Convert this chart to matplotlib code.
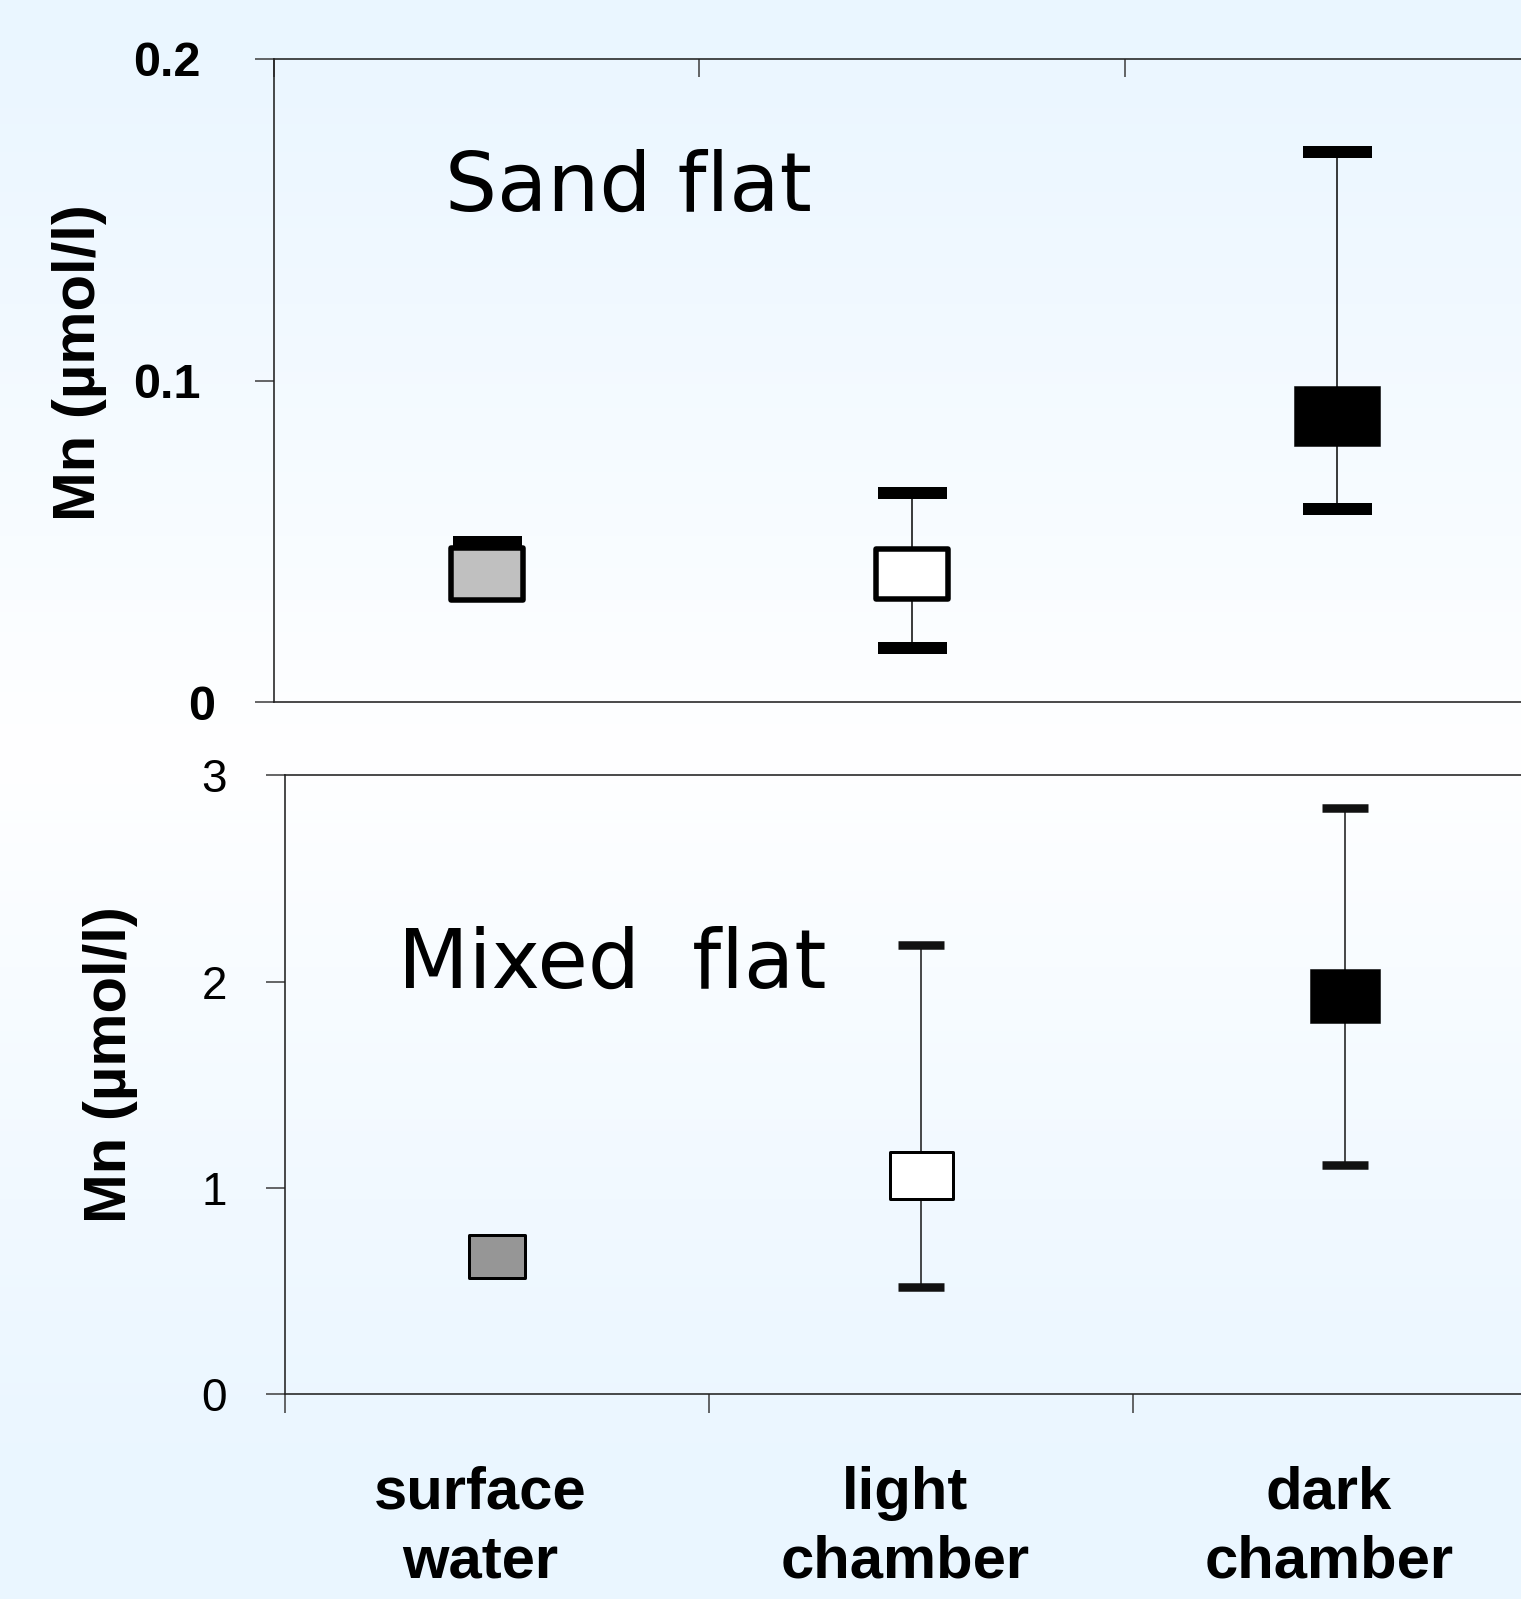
import numpy as np
import matplotlib
matplotlib.use("Agg")
import matplotlib.pyplot as plt
from matplotlib.path import Path
from matplotlib.transforms import ScaledTranslation

# ---------------- data ----------------
categories = ["surface\nwater", "light\nchamber", "dark\nchamber"]

sand_mean = [0.040, 0.040, 0.089]
sand_upper = [0.050, 0.065, 0.171]
sand_lower = [0.034, 0.017, 0.060]

mixed_mean = [0.67, 1.06, 1.93]
mixed_upper = [0.67, 2.18, 2.84]
mixed_lower = [0.67, 0.52, 1.11]

sand_yticks = [0.0, 0.1, 0.2]
sand_yticklabels = ["0", "0.1", "0.2"]
mixed_yticks = [0, 1, 2, 3]
mixed_yticklabels = ["0", "1", "2", "3"]

# ---------------- styles ----------------
DPI = 100
W, H = 1521, 1599
fig = plt.figure(figsize=(W / DPI, H / DPI), dpi=DPI)

# background gradient (light blue -> white -> light blue)
bg = fig.add_axes([0, 0, 1, 1], zorder=-10)
t = np.linspace(0, 1, 400)
w = np.clip(1 - np.abs(t - 0.47) / 0.47, 0, 1) ** 1.2
c_edge = np.array([234, 246, 255]) / 255.0
c_mid = np.array([255, 255, 255]) / 255.0
grad = c_edge[None, :] * (1 - w[:, None]) + c_mid[None, :] * w[:, None]
bg.imshow(grad[:, None, :], aspect="auto", extent=[0, 1, 0, 1], origin="upper")
bg.set_axis_off()

sans = ["Liberation Sans", "DejaVu Sans"]
hand = ["DejaVu Sans"]

def rect_marker(aspect):
    verts = [(-0.5, -0.5 * aspect), (0.5, -0.5 * aspect), (0.5, 0.5 * aspect),
             (-0.5, 0.5 * aspect), (-0.5, -0.5 * aspect)]
    codes = [Path.MOVETO, Path.LINETO, Path.LINETO, Path.LINETO, Path.CLOSEPOLY]
    return Path(verts, codes)

def px2pt(p):
    return p * 72.0 / DPI

x = np.arange(len(categories))

# ---------- top panel (Sand flat) ----------
l1, r1 = 274, W
t1, b1 = 59, 702.5
ax1 = fig.add_axes([l1 / W, 1 - b1 / H, (r1 - l1) / W, (b1 - t1) / H])
ax1.patch.set_alpha(0)
unit1 = (1124.5 - 274) / 2
ax1.set_xlim(-0.5, (r1 - l1) / unit1 - 0.5)
ax1.set_ylim(0, 0.2)

top_face = ["#c0c0c0", "#ffffff", "#000000"]
top_w = [77, 77, 86]
top_h = [57, 56, 60]
top_ew = [5.5, 5.5, 0.5]
for i in range(3):
    yerr = [[sand_mean[i] - sand_lower[i]], [sand_upper[i] - sand_mean[i]]]
    ax1.errorbar([x[i]], [sand_mean[i]], yerr=yerr, fmt="none", ecolor="black",
                 elinewidth=px2pt(1.5), capsize=px2pt(69) / 2, capthick=px2pt(12),
                 zorder=2)
    ew = top_ew[i]
    ax1.plot([x[i]], [sand_mean[i]], linestyle="none",
             marker=rect_marker((top_h[i] - ew) / (top_w[i] - ew)),
             markersize=px2pt(top_w[i] - ew), markerfacecolor=top_face[i],
             markeredgecolor="black", markeredgewidth=px2pt(ew), zorder=3)

ax1.spines["right"].set_visible(False)
for s in ["left", "top", "bottom"]:
    ax1.spines[s].set_linewidth(px2pt(1.6))
    ax1.spines[s].set_color("#222222")
ax1.xaxis.set_ticks_position("top")
ax1.set_xticks([-0.5, 0.5, 1.5])
ax1.tick_params(axis="x", direction="in", length=px2pt(18), width=px2pt(1.6),
                labeltop=False, labelbottom=False, color="#444444")
ax1.set_yticks(sand_yticks)
ax1.set_yticklabels(sand_yticklabels, fontfamily=sans, fontweight="bold",
                    fontsize=35)
ax1.tick_params(axis="y", direction="out", length=px2pt(19), width=px2pt(1.6),
                pad=px2pt(54), color="#444444")
# the "0" label sits a little further right in the original
lab0 = ax1.get_yticklabels()[0]
lab0.set_transform(lab0.get_transform() +
                   ScaledTranslation(14 / DPI, 0, fig.dpi_scale_trans))
ax1.set_ylabel("Mn (µmol/l)", fontfamily=sans, fontweight="bold", fontsize=43,
               ha="center", va="center")
ax1.yaxis.set_label_coords((80 - l1) / (r1 - l1), (b1 - 363) / (b1 - t1))
ax1.text((445 - l1) / (r1 - l1), (b1 - 211) / (b1 - t1), "Sand flat",
         transform=ax1.transAxes, fontfamily=hand, fontsize=59,
         ha="left", va="baseline")

# ---------- bottom panel (Mixed flat) ----------
l2, r2 = 284.5, W
t2, b2 = 775.5, 1393.8
ax2 = fig.add_axes([l2 / W, 1 - b2 / H, (r2 - l2) / W, (b2 - t2) / H])
ax2.patch.set_alpha(0)
unit2 = (1133 - 284.5) / 2
ax2.set_xlim(-0.5, (r2 - l2) / unit2 - 0.5)
ax2.set_ylim(0, 3)

bot_face = ["#969696", "#ffffff", "#000000"]
bot_w = [59, 66, 70]
bot_h = [46, 50, 54]
bot_ew = [3.0, 3.0, 0.5]
for i in range(3):
    if mixed_upper[i] > mixed_lower[i]:
        yerr = [[mixed_mean[i] - mixed_lower[i]], [mixed_upper[i] - mixed_mean[i]]]
        ax2.errorbar([x[i]], [mixed_mean[i]], yerr=yerr, fmt="none",
                     ecolor="#111111", elinewidth=px2pt(1.5),
                     capsize=px2pt(46) / 2, capthick=px2pt(8.5), zorder=2)
    ew = bot_ew[i]
    ax2.plot([x[i]], [mixed_mean[i]], linestyle="none",
             marker=rect_marker((bot_h[i] - ew) / (bot_w[i] - ew)),
             markersize=px2pt(bot_w[i] - ew), markerfacecolor=bot_face[i],
             markeredgecolor="black", markeredgewidth=px2pt(ew), zorder=3)

ax2.spines["right"].set_visible(False)
for s in ["left", "top", "bottom"]:
    ax2.spines[s].set_linewidth(px2pt(1.6))
    ax2.spines[s].set_color("#222222")
ax2.set_xticks([-0.5, 0.5, 1.5])
ax2.tick_params(axis="x", which="major", direction="out", length=px2pt(19),
                width=px2pt(1.6), labelbottom=False, color="#444444")
ax2.set_xticks(x, minor=True)
ax2.set_xticklabels(categories, minor=True, fontfamily=sans, fontweight="bold",
                    fontsize=43, linespacing=1.32)
ax2.tick_params(axis="x", which="minor", length=0, pad=px2pt(72))
for lab in ax2.get_xticklabels(minor=True):
    lab.set_transform(lab.get_transform() +
                      ScaledTranslation(-16 / DPI, 0, fig.dpi_scale_trans))
ax2.set_yticks(mixed_yticks)
ax2.set_yticklabels(mixed_yticklabels, fontfamily=sans, fontsize=33)
ax2.tick_params(axis="y", direction="out", length=px2pt(19.5), width=px2pt(1.6),
                pad=px2pt(38), color="#444444")
ax2.set_ylabel("Mn (µmol/l)", fontfamily=sans, fontweight="bold", fontsize=43,
               ha="center", va="center")
ax2.yaxis.set_label_coords((111 - l2) / (r2 - l2), (b2 - 1064.5) / (b2 - t2))
ax2.text((398 - l2) / (r2 - l2), (b2 - 988) / (b2 - t2), "Mixed  flat",
         transform=ax2.transAxes, fontfamily=hand, fontsize=59,
         ha="left", va="baseline")

fig.savefig("out.png", dpi=DPI)
